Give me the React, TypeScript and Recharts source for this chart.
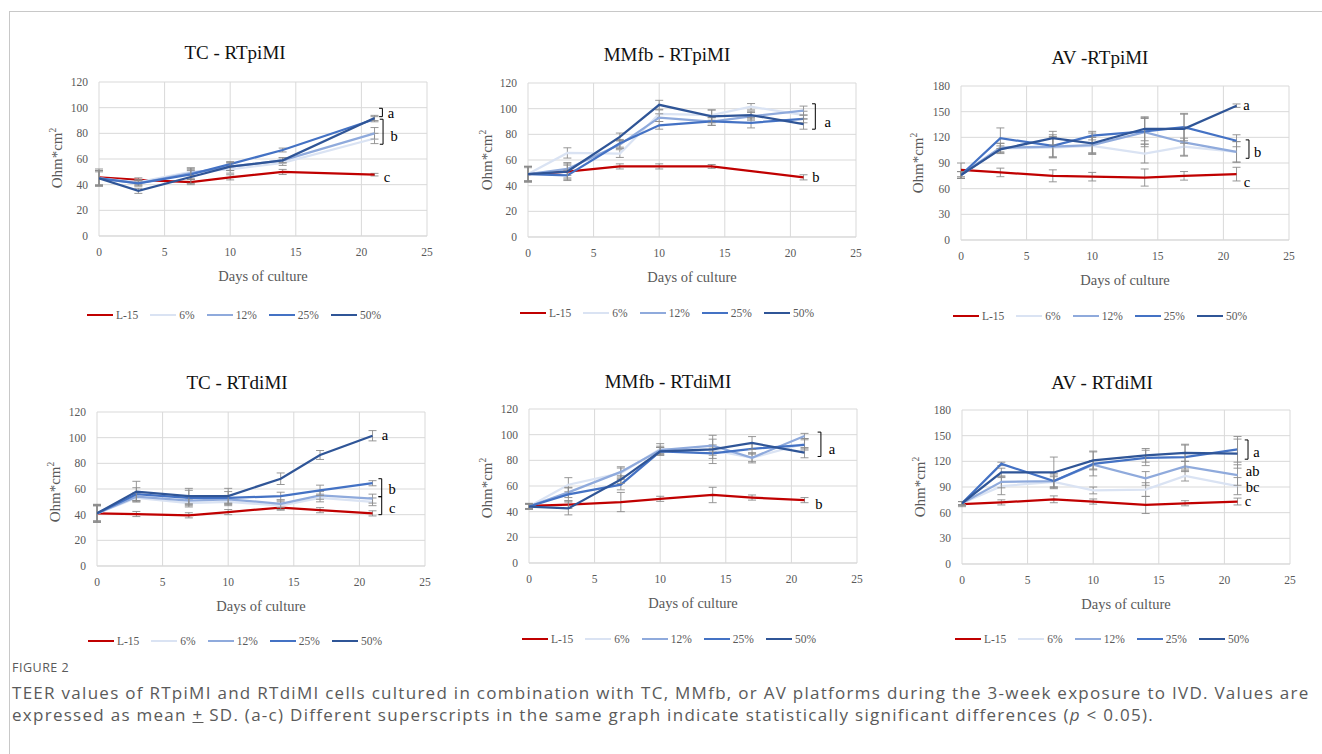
import React from "react";
import { LineChart, Line, XAxis, YAxis, CartesianGrid, ErrorBar, ReferenceLine, ReferenceDot, Label } from "recharts";

// sampling days
const DAYS = [0, 3, 7, 10, 14, 17, 21];
const X_TICKS = [0, 5, 10, 15, 20, 25];
const Y_TICKS_120 = [0, 20, 40, 60, 80, 100, 120];
const Y_TICKS_180 = [0, 30, 60, 90, 120, 150, 180];

const SERIES_NAMES = ["L-15", "6%", "12%", "25%", "50%"];
const SERIES_COLORS = ["#c00000", "#dae3f3", "#8faadc", "#4472c4", "#2f5597"];

// TC - RTpiMI (no day 17 reading)
const tcPiMean = [
  [45.7, 43.8, 42, 45.7, 49.9, null, 47.8],
  [45, 42, 50, 52, 57, null, 76],
  [45, 41, 49, 54, 59, null, 80],
  [45, 41, 48, 56, 67, null, 91],
  [45, 35.2, 46, 54, 59, null, 92],
];
const tcPiSd = [
  [6.5, 1.5, 2, 2, 2, null, 1],
  [6, 2, 3, 3, 2, null, 4],
  [6, 2, 4, 3, 2, null, 4.5],
  [5, 2, 4, 2, 1.5, null, 2],
  [6, 2, 5, 3, 2, null, 2],
];

// MMfb - RTpiMI
const mmPiMean = [
  [49, 51, 55, 55, 55, null, 46.5],
  [49, 65.5, 65, 96, 95, 101.5, 95],
  [49, 53, 72, 93, 90, 94, 98.5],
  [49, 48, 73, 87, 90, 89, 92],
  [49, 51, 78, 103, 94, 95, 88],
];
const mmPiSd = [
  [6, 5, 2, 2, 1.5, null, 2],
  [6, 4, 3, 3, 4, 2.5, 3],
  [6, 5, 3, 3, 3, 3, 3.5],
  [5, 4, 3, 3, 3, 4, 3],
  [6, 6, 3, 3.5, 5, 3, 4],
];

// AV - RTpiMI
const avPiMean = [
  [82, 79, 75, 74, 73, 75, 77],
  [76, 107, 108, 110, 101, 109, 103],
  [76, 108, 109, 111, 126, 114, 103],
  [76, 119, 110, 122, 127, 132, 116],
  [76, 106, 119, 113, 130, 130, 157],
];
const avPiSd = [
  [8, 5, 7, 5, 10, 5, 8],
  [4, 6, 12, 10, 11, 10, 12],
  [4, 5, 12, 9, 17, 16, 12],
  [4, 12, 13, 5, 15, 16, 7],
  [4, 4, 8, 12, 14, 17, 2],
];

// TC - RTdiMI
const tcDiMean = [
  [41, 40.5, 39.5, 42, 45.5, 43.5, 41],
  [41, 53, 49, 50, 47, 53, 50],
  [41, 54, 51, 52, 48.5, 55, 52.5],
  [41, 56, 53, 53, 54.5, 59, 64.5],
  [41, 58, 54.5, 54.5, 68, 86.5, 101.5],
];
const tcDiSd = [
  [6, 2, 2, 2, 2, 2, 2],
  [7, 3, 3, 3, 3, 3, 3],
  [6, 3, 3, 3, 3, 3, 3.5],
  [6, 5, 6, 5, 3, 4, 2],
  [7, 8, 6, 6, 4.5, 3.5, 4],
];

// MMfb - RTdiMI
const mmDiMean = [
  [44.5, 45.5, 47.5, 50, 53, 51, 49],
  [44, 61, 70, 89, 88, 82, 93],
  [44, 55, 71, 88, 91.5, 82, 99],
  [44, 53.5, 61, 87, 85.5, 89, 92],
  [44, 42.5, 65, 87, 88.5, 93.5, 86],
];
const mmDiSd = [
  [2, 3, 7.5, 2, 6, 2, 2],
  [2, 5.5, 4, 4, 4, 3, 4],
  [2, 4, 4, 3, 5, 4, 2],
  [2, 5, 4, 3, 4, 4, 4],
  [2, 5, 3, 3, 11, 5, 4],
];

// AV - RTdiMI
const avDiMean = [
  [70, 72, 75.6, 73, 69, 71, 73],
  [71, 91, 96, 86, 87, 103, 91],
  [71, 96, 97, 116, 100, 114, 104],
  [71, 117, 97, 117, 124, 125, 134],
  [71, 107, 107, 121, 127, 130, 129],
];
const avDiSd = [
  [3, 3, 4, 3, 10, 3, 4],
  [2, 10, 6, 4, 8, 6, 10],
  [2, 7, 7, 5, 8, 6, 12],
  [2, 2, 9, 14, 9, 14, 15],
  [2, 5, 18, 11, 8, 10, 17],
];

// significance brackets and letters (data units)
const tcPiBrackets = [{ x: 21.6, y1: 99.5, y2: 93 }, { x: 21.65, y1: 91, y2: 71.5 }];
const tcPiLetters = [{ x: 22.25, y: 96, t: "a" }, { x: 22.5, y: 78, t: "b" }, { x: 21.95, y: 46, t: "c" }];
const mmPiBrackets = [{ x: 21.9, y1: 103.8, y2: 84 }];
const mmPiLetters = [{ x: 22.85, y: 90, t: "a" }, { x: 21.95, y: 47, t: "b" }];
const avPiBrackets = [{ x: 21.95, y1: 117, y2: 95.5 }];
const avPiLetters = [{ x: 21.75, y: 158, t: "a" }, { x: 22.6, y: 103, t: "b" }, { x: 21.8, y: 68, t: "c" }];
const tcDiBrackets = [{ x: 21.7, y1: 68, y2: 54 }, { x: 21.7, y1: 54, y2: 40 }];
const tcDiLetters = [{ x: 21.95, y: 102, t: "a" }, { x: 22.5, y: 60, t: "b" }, { x: 22.5, y: 45.5, t: "c" }];
const mmDiBrackets = [{ x: 22.25, y1: 102, y2: 83 }];
const mmDiLetters = [{ x: 23.1, y: 89, t: "a" }, { x: 22.1, y: 46, t: "b" }];
const avDiBrackets = [{ x: 21.8, y1: 145, y2: 122.5 }];
const avDiLetters = [{ x: 22.45, y: 130.5, t: "a" }, { x: 22.15, y: 109, t: "ab" }, { x: 22.15, y: 90.5, t: "bc" }, { x: 21.8, y: 74, t: "c" }];

const SERIF = "Liberation Serif";
const GREY = "#595959";

function buildSeries(means, sds) {
  return means.map((vals, s) =>
    DAYS.map((day, i) => ({ day, v: vals[i], sd: sds[s][i] })).filter((p) => p.v != null)
  );
}

const PANELS = [
  { title: "TC - RTpiMI", means: tcPiMean, sds: tcPiSd, yMax: 120, ticks: Y_TICKS_120, brackets: tcPiBrackets, letters: tcPiLetters,
    plot: [99, 82], titleAt: [235, 53], yLabelAt: [57, 158], legendAt: [87, 315] },
  { title: "MMfb - RTpiMI", means: mmPiMean, sds: mmPiSd, yMax: 120, ticks: Y_TICKS_120, brackets: mmPiBrackets, letters: mmPiLetters,
    plot: [528, 83], titleAt: [667, 55], yLabelAt: [487, 160], legendAt: [520, 313] },
  { title: "AV -RTpiMI", means: avPiMean, sds: avPiSd, yMax: 180, ticks: Y_TICKS_180, brackets: avPiBrackets, letters: avPiLetters,
    plot: [961, 86], titleAt: [1100, 58], yLabelAt: [918, 163], legendAt: [953, 316] },
  { title: "TC - RTdiMI", means: tcDiMean, sds: tcDiSd, yMax: 120, ticks: Y_TICKS_120, brackets: tcDiBrackets, letters: tcDiLetters,
    plot: [97, 412], titleAt: [237, 383], yLabelAt: [55, 492], legendAt: [88, 641] },
  { title: "MMfb - RTdiMI", means: mmDiMean, sds: mmDiSd, yMax: 120, ticks: Y_TICKS_120, brackets: mmDiBrackets, letters: mmDiLetters,
    plot: [529, 409], titleAt: [668, 382], yLabelAt: [487, 488], legendAt: [522, 639] },
  { title: "AV - RTdiMI", means: avDiMean, sds: avDiSd, yMax: 180, ticks: Y_TICKS_180, brackets: avDiBrackets, letters: avDiLetters,
    plot: [962, 410], titleAt: [1102, 383], yLabelAt: [920, 487], legendAt: [955, 639] },
];

const CHART_W = 390;
const CHART_H = 217;
const M_TOP = 10;
const M_LEFT = 10;
const Y_W = 40;

function Panel({ p }) {
  const series = buildSeries(p.means, p.sds);
  const tick = { fill: GREY, fontSize: 11.5, fontFamily: SERIF };
  return (
    <>
      <div style={{ position: "absolute", left: p.titleAt[0], top: p.titleAt[1] - 12, transform: "translateX(-50%)",
        fontFamily: SERIF, fontSize: 19, fontWeight: 400, color: "#111", whiteSpace: "nowrap", lineHeight: "24px" }}>
        {p.title}
      </div>
      <div style={{ position: "absolute", left: p.yLabelAt[0], top: p.yLabelAt[1], transform: "translate(-50%, -50%) rotate(-90deg)",
        fontFamily: SERIF, fontSize: 15, color: GREY, whiteSpace: "nowrap" }}>
        Ohm*cm<sup style={{ fontSize: 9.5 }}>2</sup>
      </div>
      <div style={{ position: "absolute", left: p.plot[0] - M_LEFT - Y_W, top: p.plot[1] - M_TOP }}>
        <LineChart width={CHART_W} height={CHART_H} margin={{ top: M_TOP, right: 12, left: M_LEFT, bottom: 8 }}>
          <CartesianGrid stroke="#d9d9d9" />
          <XAxis type="number" dataKey="day" domain={[0, 25]} ticks={X_TICKS} tick={tick} tickLine={false}
            tickSize={0} tickMargin={12} axisLine={{ stroke: "#d9d9d9" }} height={45} allowDataOverflow>
            <Label value="Days of culture" position="insideBottom" offset={0} fill={GREY} fontSize={14.5} fontFamily={SERIF} />
          </XAxis>
          <YAxis type="number" domain={[0, p.yMax]} ticks={p.ticks} tick={tick} tickLine={false} tickSize={0}
            tickMargin={11} axisLine={false} width={Y_W} />
          {series.map((data, s) => (
            <Line key={SERIES_NAMES[s]} data={data} dataKey="v" type="linear" stroke={SERIES_COLORS[s]} strokeWidth={2.25}
              dot={false} activeDot={false} isAnimationActive={false}>
              <ErrorBar dataKey="sd" width={4} stroke="#8c8c8c" strokeWidth={0.9} direction="y" isAnimationActive={false} />
            </Line>
          ))}
          {p.brackets.flatMap((b, i) => [
            <ReferenceLine key={`bv${i}`} segment={[{ x: b.x, y: b.y1 }, { x: b.x, y: b.y2 }]} stroke="#000" strokeWidth={1} />,
            <ReferenceLine key={`bt${i}`} segment={[{ x: b.x - 0.25, y: b.y1 }, { x: b.x, y: b.y1 }]} stroke="#000" strokeWidth={1} />,
            <ReferenceLine key={`bb${i}`} segment={[{ x: b.x - 0.25, y: b.y2 }, { x: b.x, y: b.y2 }]} stroke="#000" strokeWidth={1} />,
          ])}
          {p.letters.map((l, i) => (
            <ReferenceDot key={`l${i}`} x={l.x} y={l.y} r={1} fill="none" stroke="none"
              label={{ value: l.t, position: "center", fill: "#000", fontSize: 14.5, fontFamily: SERIF }} />
          ))}
        </LineChart>
      </div>
      <div style={{ position: "absolute", left: p.legendAt[0], top: p.legendAt[1] - 8, height: 16, display: "flex",
        alignItems: "center", fontFamily: SERIF, fontSize: 11.5, color: GREY, whiteSpace: "nowrap" }}>
        {SERIES_NAMES.map((n, s) => (
          <span key={n} style={{ display: "flex", alignItems: "center", marginRight: 12 }}>
            <span style={{ display: "inline-block", width: 26, height: 2.25, background: SERIES_COLORS[s], marginRight: 3 }} />
            {n}
          </span>
        ))}
      </div>
    </>
  );
}

export default function App() {
  return (
    <div style={{ position: "absolute", left: 0, top: 0, width: 1322, height: 754, background: "#fff", overflow: "hidden" }}>
      <div style={{ position: "absolute", left: 9, top: 11, width: 1330, height: 760, borderTop: "1px solid #c8c8c8",
        borderLeft: "1px solid #c8c8c8" }} />
      {PANELS.map((p) => (
        <Panel key={p.title} p={p} />
      ))}
      <div style={{ position: "absolute", left: 12, top: 659, fontFamily: "'Open Sans', sans-serif", color: "#5a5a5a" }}>
        <div style={{ fontSize: 12.5, letterSpacing: 0.5, lineHeight: "18px" }}>FIGURE 2</div>
        <div style={{ fontSize: 17, letterSpacing: 1.28, lineHeight: "22px", marginTop: 5, whiteSpace: "nowrap" }}>
          TEER values of RTpiMI and RTdiMI cells cultured in combination with TC, MMfb, or AV platforms during the 3-week exposure to IVD. Values are
          <br />
          expressed as mean <span style={{ textDecoration: "underline" }}>+</span> SD. (a-c) Different superscripts in the same graph indicate statistically significant differences (<i>p</i> &lt; 0.05).
        </div>
      </div>
    </div>
  );
}
